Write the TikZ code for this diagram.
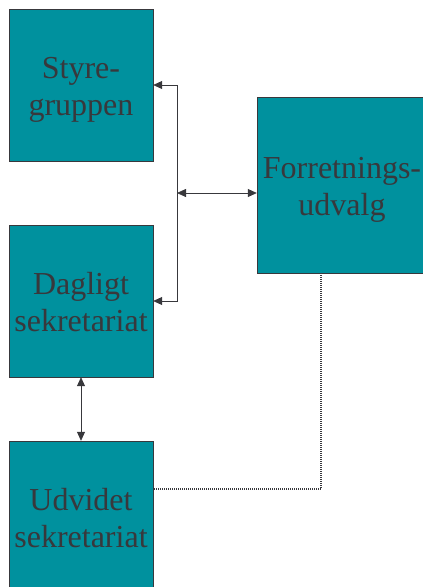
\documentclass[tikz,border=0pt]{standalone}
\usepackage{fontspec}
\setmainfont{Liberation Serif}
\usetikzlibrary{arrows.meta}
\definecolor{boxteal}{HTML}{00919E}
\definecolor{inkgray}{HTML}{38383C}
\begin{document}
\begin{tikzpicture}[x=1pt,y=-1pt,
  unit/.style={draw=inkgray,fill=boxteal,text=inkgray,minimum width=144pt,minimum height=152pt,inner sep=0pt,align=center,font=\fontsize{32}{37}\selectfont,text height=60pt,text depth=0pt},
  link/.style={draw=inkgray,line width=0.8pt},
  twoway/.style={link,{Triangle[length=9pt,width=8pt]}-{Triangle[length=9pt,width=8pt]}},
  oneway/.style={link,-{Triangle[length=9pt,width=8pt]}},
  loose/.style={draw=inkgray,line width=1.2pt,dash pattern=on 1pt off 1pt}]
\useasboundingbox (0,0) rectangle (423,587);
\node[unit] (styre) at (81,85) {Styre-\\gruppen};
\node[unit] (daglig) at (81,301) {Dagligt\\sekretariat};
\node[unit] (udvidet) at (81,517) {Udvidet\\sekretariat};
\node[unit,minimum width=170pt,minimum height=176pt] (forr) at (342,185) {Forretnings-\\udvalg};
\coordinate (bus) at (177,193);
\coordinate (knee) at (321,489);
\draw[oneway] (bus) |- (styre.east);
\draw[oneway] (bus) |- (daglig.east);
\draw[twoway] (bus) -- (bus -| forr.west);
\draw[twoway] (daglig) -- (udvidet);
\draw[loose] (knee |- forr.south) -- (knee) -- (knee -| udvidet.east);
\end{tikzpicture}
\end{document}
